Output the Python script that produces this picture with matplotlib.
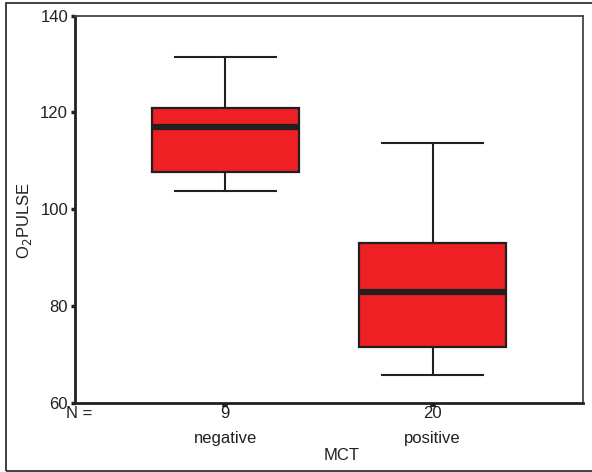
import matplotlib
matplotlib.use("Agg")
import matplotlib.pyplot as plt
from matplotlib.patches import Rectangle

plt.rcParams["font.family"] = ["Liberation Sans", "DejaVu Sans"]

# box statistics
groups = ["negative", "positive"]
counts = [9, 20]
whisker_low = [103.8, 65.7]
q1 = [107.7, 71.5]
median = [117.0, 82.9]
q3 = [120.9, 93.0]
whisker_high = [131.5, 113.6]
y_ticks = [60, 80, 100, 120, 140]

W, H = 592, 472
fs = 12
fig = plt.figure(figsize=(W / 100, H / 100), dpi=100)
ax = fig.add_axes([75 / W, 1 - 403 / H, (583 - 75) / W, (403 - 15.5) / H])

stats = []
for i, g in enumerate(groups):
    stats.append(dict(label=g, whislo=whisker_low[i], q1=q1[i], med=median[i],
                      q3=q3[i], whishi=whisker_high[i], fliers=[]))

dark = "#231f20"
ax.bxp(stats, positions=[1, 2], widths=0.71, patch_artist=True, showfliers=False,
       boxprops=dict(facecolor="#ee2024", edgecolor=dark, linewidth=1.6),
       medianprops=dict(color=dark, linewidth=4.5, solid_capstyle="butt"),
       whiskerprops=dict(color=dark, linewidth=1.5),
       capprops=dict(color=dark, linewidth=1.5),
       capwidths=0.49)

ax.set_xlim(0.274, 2.726)
ax.set_ylim(60, 140)
ax.set_yticks(y_ticks)
ax.set_xticks([1, 2])
ax.set_xticklabels([])
ax.tick_params(axis="y", direction="out", length=3, width=2.5, color=dark,
               labelsize=fs, labelcolor=dark, pad=2)
ax.tick_params(axis="x", direction="out", length=3, width=4, color=dark)

for side in ["left", "bottom"]:
    ax.spines[side].set_linewidth(2)
    ax.spines[side].set_color(dark)
for side in ["top", "right"]:
    ax.spines[side].set_linewidth(1.3)
    ax.spines[side].set_color("#444444")

# N = row, category labels and axis titles
fig.text(79 / W, 1 - 413 / H, "N =", ha="center", va="center", fontsize=fs, color=dark)
for i, n in enumerate(counts):
    xf = ax.transData.transform((i + 1, 0))[0] / fig.bbox.width
    fig.text(xf, 1 - 414 / H, str(n), ha="center", va="center", fontsize=fs, color=dark)
    fig.text(xf, 1 - 439 / H, groups[i], ha="center", va="center", fontsize=fs, color=dark)
fig.text(342 / W, 1 - 456 / H, "MCT", ha="center", va="center", fontsize=fs, color=dark)
fig.text(25 / W, 1 - 221 / H, r"O$_2$PULSE", rotation=90, ha="center", va="center",
         fontsize=fs, color=dark)

# outer frame
fig.patches.append(Rectangle((6 / W, 1 - 471 / H), 1.0, (471 - 3) / H, transform=fig.transFigure,
                             fill=False, edgecolor=dark, linewidth=1.2, clip_on=False))

fig.savefig("out.png", dpi=100)
